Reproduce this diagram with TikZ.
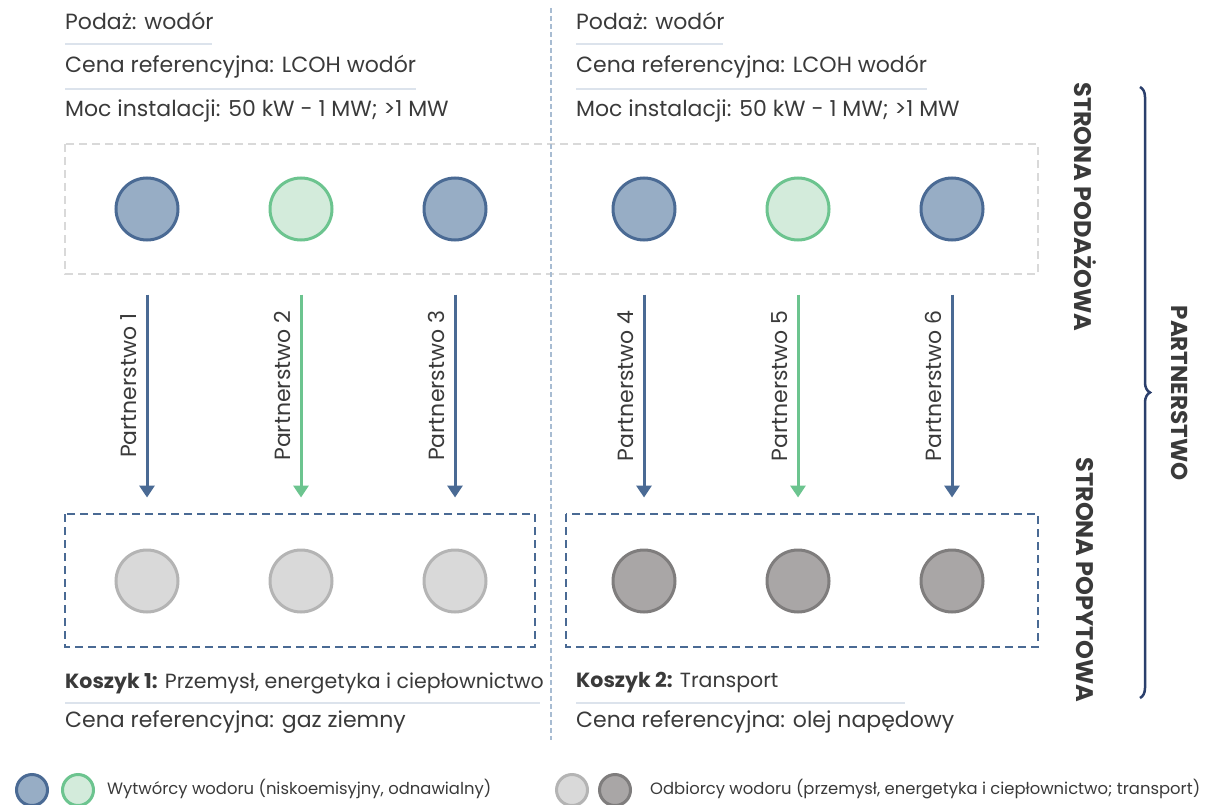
\documentclass[tikz,border=0pt]{standalone}
\usepackage{fontspec}
\setmainfont{Poppins}
\usetikzlibrary{decorations.pathreplacing,arrows.meta}
\definecolor{hblue}{HTML}{4A6A94}
\definecolor{hbluefill}{HTML}{97ADC5}
\definecolor{hgreen}{HTML}{6CC48F}
\definecolor{hgreenfill}{HTML}{D3EBDB}
\definecolor{lgrey}{HTML}{D9D9D9}
\definecolor{lgreyline}{HTML}{B4B4B4}
\definecolor{dgrey}{HTML}{A9A6A6}
\definecolor{dgreyline}{HTML}{7F7D7D}
\definecolor{rulecol}{HTML}{DCE3EC}
\definecolor{divcol}{HTML}{A8BCD2}
\definecolor{txt}{HTML}{3A3A3A}
\definecolor{navy}{HTML}{2B3F6C}
\tikzset{
  blob/.style={circle,minimum size=62pt,inner sep=0pt,line width=3pt},
  prodb/.style={blob,draw=hblue,fill=hbluefill},
  prodg/.style={blob,draw=hgreen,fill=hgreenfill},
  consl/.style={blob,draw=lgreyline,fill=lgrey},
  consd/.style={blob,draw=dgreyline,fill=dgrey},
  txtline/.style={anchor=west,inner sep=0pt,text=txt,font=\fontsize{22}{26}\selectfont},
  uline/.style={rulecol,line width=2pt},
  flow/.style={line width=3pt,-{Triangle[width=15pt,length=12pt]},shorten <=53pt,shorten >=51pt},
  sidelab/.style={rotate=-90,text=txt,font=\fontsize{24}{28}\selectfont\bfseries}
}
\begin{document}
\begin{tikzpicture}[x=1pt,y=-1pt]
\useasboundingbox (0,0) rectangle (1215,805);
\draw[lgrey,line width=2.5pt,dash pattern=on 8pt off 5pt] (65,144) rectangle (1038,274);
\draw[hblue,line width=2.5pt,dash pattern=on 8pt off 5pt] (65,514) rectangle (535,647);
\draw[hblue,line width=2.5pt,dash pattern=on 8pt off 5pt] (566,514) rectangle (1038,647);
\draw[divcol,line width=2.5pt,dash pattern=on 5pt off 3pt] (551,8) -- (551,740);
\foreach \c/\x in {l/65,r/576} % edit here for the header texts
{
\node[txtline] (sup\c) at (\x,21) {Podaż: wodór};
\node[txtline] (ref\c) at (\x,67) {Cena referencyjna: LCOH wodór};
\node[txtline] (pow\c) at (\x,111) {Moc instalacji: 50 kW - 1 MW; >1 MW};
\draw[uline] (\x,44) -- +(147,0);
\draw[uline] (\x,89) -- +(351,0);
}
\foreach \i/\x/\s/\t/\k in {1/147/prodb/consl/hblue,2/301/prodg/consl/hgreen,3/455/prodb/consl/hblue,4/644/prodb/consd/hblue,5/798/prodg/consd/hgreen,6/952/prodb/consd/hblue} % edit here for the circles
{
\node[\s] (p\i) at (\x,209) {};
\node[\t] (c\i) at (\x,581) {};
\draw[flow,\k] (p\i) -- (c\i) node[pos=0.47,anchor=south,rotate=90,inner sep=9pt,text=txt,font=\fontsize{22}{26}\selectfont] {Partnerstwo \i};
}
\node[txtline,font=\fontsize{20.5}{24}\selectfont] (kosz1) at (65,683) {\textbf{Koszyk 1:} Przemysł, energetyka i ciepłownictwo};
\node[txtline,font=\fontsize{20.5}{24}\selectfont] (kosz2) at (576,683) {\textbf{Koszyk 2:} Transport};
\draw[uline] (65,703) -- (540,703);
\draw[uline] (576,703) -- (905,703);
\node[txtline] (gaz) at (65,722) {Cena referencyjna: gaz ziemny};
\node[txtline] (olej) at (576,722) {Cena referencyjna: olej napędowy};
\node[sidelab] (supply) at (1085,207) {STRONA PODAŻOWA};
\node[sidelab] (demand) at (1085,580) {STRONA POPYTOWA};
\draw[navy,line width=2.5pt,decorate,decoration={brace,amplitude=10pt}] (1140,87) -- (1140,698);
\node[sidelab,font=\fontsize{23}{27}\selectfont\bfseries] (partner) at (1180,393) {PARTNERSTWO};
% legend
\node[blob,minimum size=31pt,draw=hblue,fill=hbluefill] (lg1) at (32,790) {};
\node[blob,minimum size=31pt,draw=hgreen,fill=hgreenfill] (lg2) at (78,790) {};
\node[txtline,font=\fontsize{16.4}{19}\selectfont] (lgt1) at (107,789) {Wytwórcy wodoru (niskoemisyjny, odnawialny)};
\node[blob,minimum size=31pt,draw=lgreyline,fill=lgrey] (lg3) at (572,790) {};
\node[blob,minimum size=31pt,draw=dgreyline,fill=dgrey] (lg4) at (615,790) {};
\node[txtline,font=\fontsize{16.4}{19}\selectfont] (lgt2) at (650,789) {Odbiorcy wodoru (przemysł, energetyka i ciepłownictwo; transport)};
\end{tikzpicture}
\end{document}
